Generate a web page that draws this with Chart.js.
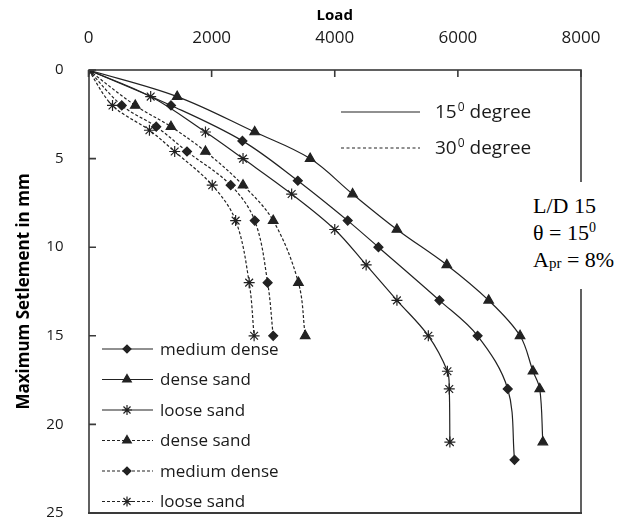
<!DOCTYPE html>
<html>
<head>
<meta charset="utf-8">
<script src="https://cdn.jsdelivr.net/npm/chart.js@4.4.1/dist/chart.umd.min.js"></script>
<style>
  html, body { margin: 0; padding: 0; background: #fff; overflow: hidden; }
  #wrap { position: relative; width: 619px; height: 524px; }
  #chart { display: block; }
  #note {
    position: absolute; left: 525px; top: 182px; width: 94px; height: 107px;
    background: #fff; font-family: "Liberation Serif", "Times New Roman", serif;
    font-size: 22px; line-height: 27px; color: #000; padding: 10px 0 0 8px; box-sizing: border-box;
  }
  #note sup { font-size: 14px; vertical-align: 8px; line-height: 0; }
  #note sub { font-size: 15px; vertical-align: -1px; line-height: 0; }
</style>
</head>
<body>
<div id="wrap">
  <canvas id="chart" width="619" height="524"></canvas>
  <div id="note">L/D 15<br>&theta; = 15<sup>0</sup><br>A<sub>pr</sub> = 8%</div>
</div>
<script>
// load (x) vs max settlement (y, mm)
const denseLoad15 = [0, 1440, 2700, 3600, 4290, 5010, 5820, 6500, 7010, 7220, 7330, 7380];
const denseSet15  = [0, 1.5, 3.5, 5, 7, 9, 11, 13, 15, 17, 18, 21];
const mediumLoad15 = [0, 1340, 2500, 3400, 4210, 4710, 5700, 6320, 6810, 6920];
const mediumSet15  = [0, 2, 4, 6.25, 8.5, 10, 13, 15, 18, 22];
const looseLoad15 = [0, 1010, 1900, 2510, 3300, 4000, 4510, 5010, 5520, 5830, 5860, 5870];
const looseSet15  = [0, 1.5, 3.5, 5, 7, 9, 11, 13, 15, 17, 18, 21];

const denseLoad30 = [0, 760, 1340, 1900, 2510, 3000, 3410, 3520];
const denseSet30  = [0, 2, 3.2, 4.6, 6.5, 8.5, 12, 15];
const mediumLoad30 = [0, 540, 1100, 1600, 2310, 2700, 2910, 3000];
const mediumSet30  = [0, 2, 3.2, 4.6, 6.5, 8.5, 12, 15];
const looseLoad30 = [0, 390, 990, 1400, 2010, 2390, 2610, 2690];
const looseSet30  = [0, 2, 3.4, 4.6, 6.5, 8.5, 12, 15];

const xTicks = [0, 2000, 4000, 6000, 8000];
const yTicks = [0, 5, 10, 15, 20, 25];

const INK = '#222';
const TXT = '#1a1a1a';

function pts(xs, ys) { return xs.map((x, i) => ({ x: x, y: ys[i] })); }

function series(label, xs, ys, style, dashed) {
  const r = style === 'rectRot' ? 4.5 : 5.5;
  return {
    label: label,
    data: pts(xs, ys),
    borderColor: INK,
    backgroundColor: INK,
    borderWidth: 1.2,
    borderDash: dashed ? [3, 2] : [],
    pointStyle: style,
    pointRadius: r,
    pointBorderWidth: 1.2,
    pointBackgroundColor: INK,
    pointBorderColor: INK,
    tension: 0.35,
    fill: false
  };
}

const datasets = [
  series('medium dense', mediumLoad15, mediumSet15, 'rectRot', false),
  series('dense sand', denseLoad15, denseSet15, 'triangle', false),
  series('loose sand', looseLoad15, looseSet15, 'star', false),
  series('dense sand', denseLoad30, denseSet30, 'triangle', true),
  series('medium dense', mediumLoad30, mediumSet30, 'rectRot', true),
  series('loose sand', looseLoad30, looseSet30, 'star', true)
];

// frame, inward ticks and the two hand-placed legends
const decor = {
  id: 'decor',
  afterDraw(chart) {
    const ctx = chart.ctx;
    const xs = chart.scales.x, ys = chart.scales.y;
    const L = Math.round(xs.getPixelForValue(xTicks[0])), R = Math.round(xs.getPixelForValue(xTicks[xTicks.length - 1]));
    const T = Math.round(ys.getPixelForValue(yTicks[0])), B = Math.round(ys.getPixelForValue(yTicks[yTicks.length - 1]));
    ctx.save();
    ctx.setLineDash([]);
    ctx.strokeStyle = '#3a3a3a';
    ctx.lineWidth = 1.6;
    ctx.strokeRect(L, T, R - L, B - T);
    ctx.fillStyle = '#3a3a3a';
    ctx.fillRect(L - 1, B - 1, R - L + 2, 2);
    ctx.beginPath();
    xTicks.forEach(v => { const p = xs.getPixelForValue(v); ctx.moveTo(p, T); ctx.lineTo(p, T + 7); });
    yTicks.forEach(v => { const p = ys.getPixelForValue(v); ctx.moveTo(L, p); ctx.lineTo(L + 7, p); });
    ctx.stroke();

    // series legend, bottom left
    ctx.font = '17px "Open Sans"';
    ctx.textBaseline = 'middle';
    ctx.textAlign = 'left';
    chart.data.datasets.forEach((ds, i) => {
      const y = 349 + i * 30.5;
      ctx.strokeStyle = INK;
      ctx.lineWidth = 1.2;
      ctx.setLineDash(ds.borderDash);
      ctx.beginPath(); ctx.moveTo(102, y); ctx.lineTo(153, y); ctx.stroke();
      ctx.setLineDash([]);
      ctx.fillStyle = INK;
      Chart.helpers.drawPoint(ctx, { pointStyle: ds.pointStyle, radius: ds.pointRadius - 0.5, borderWidth: 1.2 }, 127, y);
      ctx.fillStyle = TXT;
      ctx.fillText(ds.label, 160, y + 1);
    });

    // line-style legend, top right
    const styles = [{ t: '15', y: 112, dash: [] }, { t: '30', y: 148, dash: [3, 2.5] }];
    styles.forEach(s => {
      ctx.strokeStyle = INK;
      ctx.lineWidth = 1.2;
      ctx.setLineDash(s.dash);
      ctx.beginPath(); ctx.moveTo(341, s.y); ctx.lineTo(420, s.y); ctx.stroke();
      ctx.setLineDash([]);
      ctx.fillStyle = TXT;
      ctx.font = '19px "Open Sans"';
      ctx.fillText(s.t, 435, s.y + 1);
      let w = ctx.measureText(s.t).width;
      ctx.font = '12px "Open Sans"';
      ctx.fillText('0', 435 + w + 1, s.y - 4);
      w += ctx.measureText('0').width + 1;
      ctx.font = '19px "Open Sans"';
      ctx.fillText(' degree', 435 + w, s.y + 1);
    });
    ctx.restore();
  }
};

new Chart(document.getElementById('chart').getContext('2d'), {
  type: 'line',
  data: { datasets: datasets },
  plugins: [decor],
  options: {
    responsive: false,
    animation: false,
    layout: { padding: { left: 0, right: 38, top: 0, bottom: 11 } },
    plugins: { legend: { display: false }, tooltip: { enabled: false } },
    scales: {
      x: {
        type: 'linear', position: 'top', min: 0, max: 8000,
        afterBuildTicks: s => { s.ticks = xTicks.map(v => ({ value: v })); },
        afterFit: s => { s.height = 70; },
        ticks: { font: { family: 'Open Sans', size: 17 }, color: TXT, padding: 0, callback: v => String(v) },
        grid: { drawOnChartArea: false, drawTicks: true, tickLength: 22, color: 'rgba(0,0,0,0)' },
        border: { display: false },
        title: { display: true, text: 'Load', color: '#000', font: { family: 'Open Sans', size: 15, weight: 'bold' }, padding: { top: 7, bottom: 0 } }
      },
      y: {
        type: 'linear', reverse: true, min: 0, max: 25,
        afterBuildTicks: s => { s.ticks = yTicks.map(v => ({ value: v })); },
        afterFit: s => { s.width = 88.5; },
        ticks: { font: { family: 'Open Sans', size: 15 }, color: TXT, padding: 1, callback: v => String(v) },
        grid: { drawOnChartArea: false, drawTicks: true, tickLength: 24, color: 'rgba(0,0,0,0)' },
        border: { display: false },
        title: { display: true, text: 'Maximum Setlement in mm', color: '#000', font: { family: 'Open Sans', size: 17, weight: 'bold' }, padding: { top: 14, bottom: 0 } }
      }
    }
  }
});
</script>
</body>
</html>
